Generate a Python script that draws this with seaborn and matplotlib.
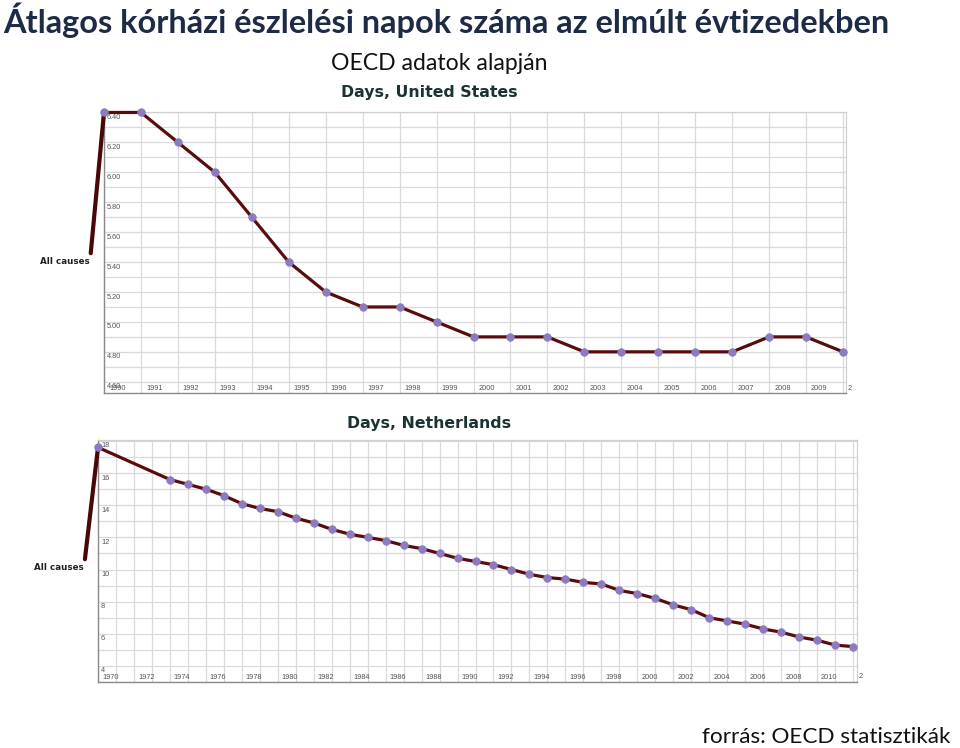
import matplotlib
matplotlib.use("Agg")
import matplotlib.pyplot as plt
from matplotlib.ticker import MultipleLocator
import seaborn as sns
import pandas as pd

# ---------------- data ----------------
us_years = list(range(1990, 2011))
us_days = [6.4, 6.4, 6.2, 6.0, 5.7, 5.4, 5.2, 5.1, 5.1, 5.0, 4.9,
           4.9, 4.9, 4.8, 4.8, 4.8, 4.8, 4.8, 4.9, 4.9, 4.8]

nl_years = [1970] + list(range(1974, 2013))
nl_days = [17.6, 15.6, 15.3, 15.0, 14.6, 14.1, 13.8, 13.6, 13.2, 12.9,
           12.5, 12.2, 12.0, 11.8, 11.5, 11.3, 11.0, 10.7, 10.5, 10.3,
           10.0, 9.7, 9.5, 9.4, 9.2, 9.1, 8.7, 8.5, 8.2, 7.8,
           7.5, 7.0, 6.8, 6.6, 6.3, 6.1, 5.8, 5.6, 5.3, 5.2]

us_ytick_vals = [6.4, 6.2, 6.0, 5.8, 5.6, 5.4, 5.2, 5.0, 4.8, 4.6]
us_ytick_labels = ["6.40", "6.20", "6.00", "5.80", "5.60", "5.40", "5.20", "5.00", "4.80", "4.60"]
us_xtick_years = list(range(1990, 2010))
us_xtick_labels = [str(y) for y in us_xtick_years]

nl_ytick_vals = [18, 16, 14, 12, 10, 8, 6, 4]
nl_ytick_labels = ["18", "16", "14", "12", "10", "8", "6", "4"]
nl_xtick_years = list(range(1970, 2012, 2))
nl_xtick_labels = [str(y) for y in nl_xtick_years]

title_text = "Átlagos kórházi észlelési napok száma az elmúlt évtizedekben"
subtitle_text = "OECD adatok alapján"
source_text = "forrás: OECD statisztikák"
us_title = "Days, United States"
nl_title = "Days, Netherlands"
legend_label = "All causes"

# ---------------- style ----------------
sns.set_style("white")
plt.rcParams["font.family"] = ["DejaVu Sans"]

LINE_C = "#5a0c0c"
MARK_C = "#8c7bbf"
GRID_C = "#dadada"
TICK_C = "#555555"
HEAD_C = "#1b3333"

fig = plt.figure(figsize=(9.6, 7.48), dpi=100)
W, H = 960, 748


def ax_rect(l, t, r, b):
    return [l / W, 1 - b / H, (r - l) / W, (b - t) / H]


def style_axes(ax, xmin, xmax, ymin, ymax, minor_y):
    ax.set_xlim(xmin, xmax)
    ax.set_ylim(ymin, ymax)
    ax.xaxis.set_major_locator(MultipleLocator(1))
    ax.yaxis.set_minor_locator(MultipleLocator(minor_y))
    ax.yaxis.set_major_locator(MultipleLocator(minor_y * 2))
    ax.grid(True, which="both", axis="both", color=GRID_C, lw=0.9)
    ax.set_axisbelow(True)
    ax.tick_params(which="both", length=0, labelbottom=False, labelleft=False)
    ax.set_xlabel("")
    ax.set_ylabel("")
    for s in ["top", "right"]:
        ax.spines[s].set_color("#d0d0d0")
        ax.spines[s].set_linewidth(0.9)
    for s in ["left", "bottom"]:
        ax.spines[s].set_color("#8a8a8a")
        ax.spines[s].set_linewidth(1.0)
    if ax.get_legend():
        ax.get_legend().remove()


def draw_series(ax, years, vals):
    df = pd.DataFrame({"year": years, "days": vals})
    sns.lineplot(data=df, x="year", y="days", ax=ax, color=LINE_C, lw=2.3,
                 marker="o", markersize=5.4, markerfacecolor=MARK_C,
                 markeredgecolor=MARK_C, markeredgewidth=0.6, clip_on=False,
                 zorder=5)


def tick_text(ax, ytv, ytl, xty, xtl, xpad, ypad):
    for v, lbl in zip(ytv, ytl):
        ax.annotate(lbl, xy=(0, v), xycoords=("axes fraction", "data"),
                    xytext=(3, -1.5), textcoords="offset pixels",
                    ha="left", va="top", fontsize=5.3, color=TICK_C,
                    family=["Liberation Sans", "DejaVu Sans"])
    for yr, lbl in zip(xty, xtl):
        ax.annotate(lbl, xy=(yr, 0), xycoords=("data", "axes fraction"),
                    xytext=(xpad, ypad), textcoords="offset pixels",
                    ha="left", va="center", fontsize=5.3, color=TICK_C,
                    family=["Liberation Sans", "DejaVu Sans"])


# ---------------- top chart (United States) ----------------
ax1 = fig.add_axes(ax_rect(104, 111.7, 846, 393))
draw_series(ax1, us_years, us_days)
style_axes(ax1, 1990, 2010.08, 4.525, 6.405, 0.1)
tick_text(ax1, us_ytick_vals, us_ytick_labels, us_xtick_years, us_xtick_labels, 5, 4.5)
fig.text(848 / W, 1 - 389 / H, "2", fontsize=5.3, color=TICK_C, ha="left", va="center",
         family=["Liberation Sans", "DejaVu Sans"])
ax1.annotate(legend_label, xy=(us_years[0], us_days[0]), xycoords="data",
             xytext=(90, H - 261), textcoords="figure pixels",
             ha="right", va="center", fontsize=6.3, fontweight="bold", color="#222222",
             annotation_clip=False,
             arrowprops=dict(arrowstyle="-", color="#4a0707", lw=3.0,
                             shrinkA=0, shrinkB=0, relpos=(1, 0.5)))
fig.text(429 / W, 1 - 93 / H, us_title, ha="center", va="center",
         fontsize=11.3, fontweight="bold", color=HEAD_C)

# ---------------- bottom chart (Netherlands) ----------------
ax2 = fig.add_axes(ax_rect(98, 440, 857, 682))
draw_series(ax2, nl_years, nl_days)
style_axes(ax2, 1970, 2012.22, 3.0, 18.06, 1)
ax2.yaxis.set_major_locator(MultipleLocator(2))
ax2.yaxis.set_minor_locator(MultipleLocator(1))
tick_text(ax2, nl_ytick_vals, nl_ytick_labels, nl_xtick_years, nl_xtick_labels, 4, 4.7)
fig.text(859 / W, 1 - 677 / H, "2", fontsize=5.3, color=TICK_C, ha="left", va="center",
         family=["Liberation Sans", "DejaVu Sans"])
ax2.annotate(legend_label, xy=(nl_years[0], nl_days[0]), xycoords="data",
             xytext=(84, H - 567), textcoords="figure pixels",
             ha="right", va="center", fontsize=6.3, fontweight="bold", color="#222222",
             annotation_clip=False,
             arrowprops=dict(arrowstyle="-", color="#4a0707", lw=3.0,
                             shrinkA=0, shrinkB=0, relpos=(1, 0.5)))
fig.text(429 / W, 1 - 423 / H, nl_title, ha="center", va="center",
         fontsize=11.3, fontweight="bold", color=HEAD_C)

# ---------------- slide texts ----------------
fig.text(3 / W, 1 - 20 / H, title_text, ha="left", va="center",
         fontsize=23.4, fontweight="bold", color="#1e2b47", family=["Lato", "DejaVu Sans"])
fig.text(439 / W, 1 - 63 / H, subtitle_text, ha="center", va="center",
         fontsize=16.6, color="#111111", family=["Lato", "DejaVu Sans"])
fig.text(951 / W, 1 - 737 / H, source_text, ha="right", va="center",
         fontsize=16.2, color="#111111", family=["Lato", "DejaVu Sans"])

fig.savefig("out.png", dpi=100, facecolor="white")
